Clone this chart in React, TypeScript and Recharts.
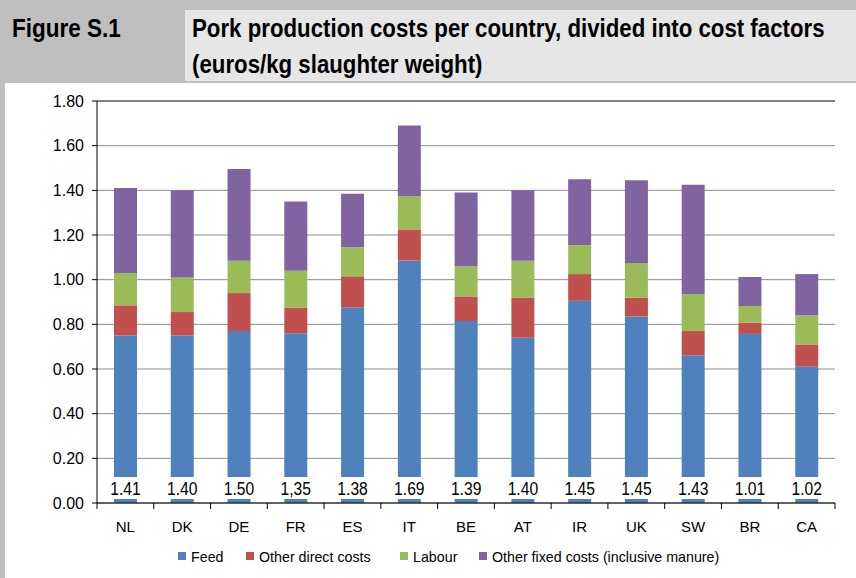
import { BarChart, Bar, XAxis, YAxis, CartesianGrid, LabelList, ReferenceLine } from 'recharts';

const countries = ['NL', 'DK', 'DE', 'FR', 'ES', 'IT', 'BE', 'AT', 'IR', 'UK', 'SW', 'BR', 'CA'];
const feed = [0.75, 0.75, 0.77, 0.76, 0.875, 1.085, 0.815, 0.74, 0.905, 0.835, 0.66, 0.757, 0.61];
const otherDirect = [0.135, 0.105, 0.17, 0.115, 0.14, 0.14, 0.11, 0.18, 0.12, 0.085, 0.11, 0.05, 0.1];
const labour = [0.145, 0.155, 0.145, 0.165, 0.13, 0.15, 0.135, 0.165, 0.13, 0.155, 0.165, 0.075, 0.13];
const otherFixed = [0.38, 0.39, 0.41, 0.31, 0.24, 0.315, 0.33, 0.315, 0.295, 0.37, 0.49, 0.13, 0.185];
const totalLabels = ['1.41', '1.40', '1.50', '1,35', '1.38', '1.69', '1.39', '1.40', '1.45', '1.45', '1.43', '1.01', '1.02'];
const yTicks = [0, 0.2, 0.4, 0.6, 0.8, 1.0, 1.2, 1.4, 1.6, 1.8];

const series = [
    { key: 'feed', name: 'Feed', color: '#4F81BD', left: 178 },
    { key: 'otherDirect', name: 'Other direct costs', color: '#C0504D', left: 246 },
    { key: 'labour', name: 'Labour', color: '#9BBB59', left: 400 },
    { key: 'otherFixed', name: 'Other fixed costs (inclusive manure)', color: '#8064A2', left: 479 },
];

const data = countries.map((c, i) => ({
    country: c,
    feed: feed[i],
    otherDirect: otherDirect[i],
    labour: labour[i],
    otherFixed: otherFixed[i],
    total: totalLabels[i],
}));

const SANS = '"Liberation Sans", Arial, sans-serif';

// condensed look: regular sans squeezed horizontally
const narrow = (scale: number): React.CSSProperties => ({
    display: 'inline-block',
    whiteSpace: 'nowrap',
    transform: `scaleX(${scale})`,
    transformOrigin: 'left center',
});

function CountryTick(props: any) {
    const { x, y, payload, index } = props;
    const half = payload && payload.offset ? payload.offset : 738 / 26;
    const axisY = 503;
    return (
        <g>
            <line x1={x - half} x2={x - half} y1={axisY} y2={axisY + 6} stroke="#000" />
            {index === countries.length - 1 && (
                <line x1={x + half} x2={x + half} y1={axisY} y2={axisY + 6} stroke="#000" />
            )}
            <text x={x} y={y} dy="0.72em" textAnchor="middle" fill="#000" fontSize={15} fontFamily={SANS}>
                {payload.value}
            </text>
        </g>
    );
}

function TotalLabel(props: any) {
    const { x, y, width, height, value } = props;
    const cx = x + width / 2;
    const bottom = y + height;
    return (
        <g>
            <rect x={cx - 19} y={bottom - 26} width={38} height={22} fill="#fff" />
            <text
                x={cx}
                y={bottom - 8}
                textAnchor="middle"
                fill="#000"
                fontSize={18}
                fontFamily={SANS}
                transform={`translate(${cx} 0) scale(0.87 1) translate(${-cx} 0)`}
            >
                {value}
            </text>
        </g>
    );
}

export default function App() {
    const titleStyle: React.CSSProperties = {
        position: 'absolute',
        fontFamily: SANS,
        fontWeight: 'bold',
        fontSize: 25,
        lineHeight: '25px',
        color: '#000',
    };
    return (
        <div style={{ position: 'absolute', left: 0, top: 0, width: 856, height: 578, background: '#fff', overflow: 'hidden' }}>
            {/* header */}
            <div style={{ position: 'absolute', left: 0, top: 0, width: 856, height: 83, background: '#bfbfbf' }} />
            <div style={{ position: 'absolute', left: 185, top: 10, width: 671, height: 71, background: '#e6e6e6' }} />
            <div style={{ position: 'absolute', left: 0, top: 83, width: 5, height: 495, background: '#bfbfbf' }} />
            <div style={{ ...titleStyle, left: 12, top: 16 }}>
                <span style={narrow(0.9)}>Figure S.1</span>
            </div>
            <div style={{ ...titleStyle, left: 192, top: 16 }}>
                <span style={narrow(0.89)}>Pork production costs per country, divided into cost factors</span>
            </div>
            <div style={{ ...titleStyle, left: 192, top: 52 }}>
                <span style={narrow(0.89)}>(euros/kg slaughter weight)</span>
            </div>

            <div style={{ position: 'absolute', left: 0, top: 0 }}>
                <BarChart width={856} height={578} data={data} margin={{ top: 101, right: 21, left: 37, bottom: 45 }}>
                    <CartesianGrid vertical={false} stroke="#8c8c8c" />
                    <XAxis
                        dataKey="country"
                        height={30}
                        axisLine={{ stroke: '#000' }}
                        tickLine={false}
                        tickSize={6}
                        tickMargin={12}
                        interval={0}
                        tick={<CountryTick />}
                    />
                    <YAxis
                        domain={[0, 1.8]}
                        ticks={yTicks}
                        width={60}
                        tickFormatter={(v: number) => v.toFixed(2)}
                        tick={{ fill: '#000', fontSize: 16, fontFamily: SANS }}
                        axisLine={{ stroke: '#000' }}
                        tickLine={{ stroke: '#000' }}
                        tickSize={5}
                        tickMargin={8}
                    />
                    <YAxis yAxisId="frame" orientation="right" width={0} tick={false} tickLine={false} axisLine={{ stroke: '#404040' }} />
                    <ReferenceLine y={1.8} stroke="#404040" />
                    {series.map((s) => (
                        <Bar key={s.key} dataKey={s.key} name={s.name} stackId="a" fill={s.color} barSize={23} isAnimationActive={false}>
                            {s.key === 'feed' && <LabelList dataKey="total" content={<TotalLabel />} />}
                        </Bar>
                    ))}
                </BarChart>
            </div>

            {/* legend */}
            {series.map((s) => (
                <div key={s.key} style={{ position: 'absolute', left: s.left, top: 546, height: 20, display: 'flex', alignItems: 'center', fontFamily: SANS, fontSize: 15, color: '#000' }}>
                    <span style={{ display: 'inline-block', width: 8, height: 8, background: s.color, marginRight: 5 }} />
                    <span style={narrow(0.95)}>{s.name}</span>
                </div>
            ))}
        </div>
    );
}
